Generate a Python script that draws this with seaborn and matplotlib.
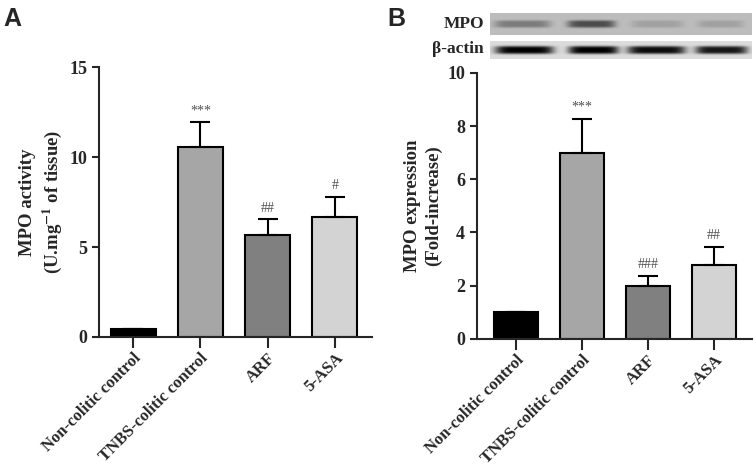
import numpy as np
import pandas as pd
import seaborn as sns
import matplotlib.pyplot as plt

groups = ['Non-colitic control', 'TNBS-colitic control', 'ARF', '5-ASA']
colors = ['#000000', '#a6a6a6', '#808080', '#d3d3d3']

# panel A: MPO activity
activity_mean = [0.42, 10.55, 5.67, 6.65]
activity_err = [0.05, 1.42, 0.88, 1.15]
activity_marks = ['', '***', '##', '#']

# panel B: MPO expression (fold increase)
expr_mean = [1.0, 7.0, 2.0, 2.78]
expr_err = [0.0, 1.28, 0.37, 0.68]
expr_marks = ['', '***', '###', '##']

# western blot band strength per lane (0 = none, 1 = black)
mpo_band = [0.35, 0.6, 0.15, 0.15]
actin_band = [1.0, 1.0, 0.95, 0.9]

sns.set_theme(style='ticks')
plt.rcParams['font.family'] = ['Liberation Serif', 'DejaVu Serif']
plt.rcParams['mathtext.fontset'] = 'stix'
plt.rcParams['axes.linewidth'] = 1.5

fig = plt.figure(figsize=(7.56, 4.70), dpi=100)


def bar_panel(ax, means, errs, marks, ylim, yticks, ylabel, xlim, mark_gap):
    df = pd.DataFrame({'group': groups, 'value': means})
    sns.barplot(data=df, x='group', y='value', hue='group', order=groups,
                palette=colors, errorbar=None, width=0.67, edgecolor='black',
                linewidth=1.5, legend=False, ax=ax)
    ax.errorbar(np.arange(len(groups)), means, yerr=[np.zeros(len(errs)), errs],
                fmt='none', ecolor='black', elinewidth=1.5, capsize=7, capthick=1.5)
    for i, (m, e, s) in enumerate(zip(means, errs, marks)):
        if s:
            ax.text(i, m + e + mark_gap, s, ha='center', va='bottom',
                    fontsize=10, color='#505050')
    ax.set_ylim(*ylim)
    ax.set_xlim(*xlim)
    ax.set_yticks(yticks)
    ax.set_xlabel('')
    ax.set_ylabel(ylabel, fontsize=13.5, fontweight='bold', linespacing=1.25)
    ax.tick_params(axis='y', length=5, width=1.5, labelsize=13)
    ax.tick_params(axis='x', length=8, width=1.5, labelsize=12, pad=1.5)
    for lab in ax.get_yticklabels():
        lab.set_fontweight('bold')
    ax.set_xticks(range(len(groups)))
    ax.set_xticklabels(groups, rotation=45, ha='right', rotation_mode='anchor',
                       fontweight='bold')
    sns.despine(ax=ax)


axA = fig.add_axes([0.131, 0.283, 0.361, 0.574])
bar_panel(axA, activity_mean, activity_err, activity_marks, (0, 15), [0, 5, 10, 15],
          'MPO activity\n(U.mg$^{\\mathbf{-1}}$ of tissue)', (-0.507, 3.55), 0.25)

axB = fig.add_axes([0.631, 0.279, 0.364, 0.566])
bar_panel(axB, expr_mean, expr_err, expr_marks, (0, 10), [0, 2, 4, 6, 8, 10],
          'MPO expression\n(Fold-increase)', (-0.59, 3.58), 0.2)

fig.text(0.005, 0.945, 'A', fontsize=18, fontweight='bold', family='Liberation Sans')
fig.text(0.512, 0.945, 'B', fontsize=18, fontweight='bold', family='Liberation Sans')


# western blot strips
def blot(rect, strengths, centers, half_widths, bg, band_h):
    ax = fig.add_axes(rect)
    h, w = 40, 262
    yy, xx = np.meshgrid(np.linspace(-1, 1, h), np.arange(w), indexing='ij')
    img = np.full((h, w), bg)
    for s, c, hw in zip(strengths, centers, half_widths):
        band = np.exp(-((xx - c) / hw) ** 6) * np.exp(-(yy / band_h) ** 4)
        img = img - s * bg * band
    ax.imshow(img, cmap='gray', vmin=0, vmax=1, aspect='auto', interpolation='bilinear')
    ax.set_xticks([])
    ax.set_yticks([])
    for sp in ax.spines.values():
        sp.set_visible(False)
    return ax


blot([490 / 756, 1 - 35 / 470, 262 / 756, 22 / 470], mpo_band,
     [32, 101, 167, 230], [28, 24, 26, 23], 0.74, 0.35)
blot([490 / 756, 1 - 59 / 470, 262 / 756, 18 / 470], actin_band,
     [34, 103, 166, 231], [29, 25, 29, 26], 0.86, 0.45)
fig.text(484 / 756, 1 - 24 / 470, 'MPO', ha='right', va='center', fontsize=12.5,
         fontweight='bold')
fig.text(484 / 756, 1 - 49 / 470, 'β-actin', ha='right', va='center', fontsize=12.5,
         fontweight='bold')

fig.savefig('out.png', dpi=100)
